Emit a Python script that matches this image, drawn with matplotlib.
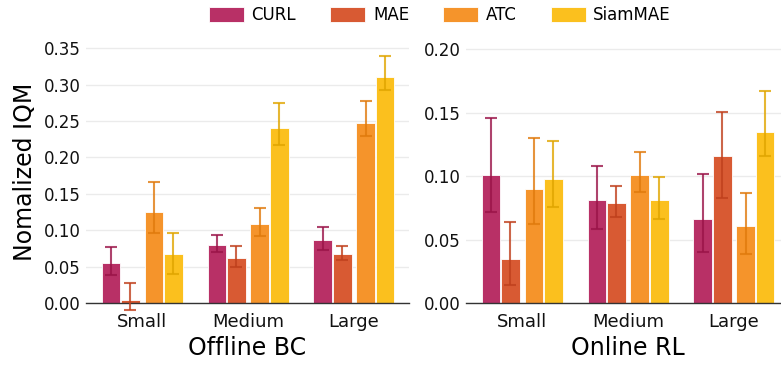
import numpy as np
import matplotlib
matplotlib.use("Agg")
import matplotlib.pyplot as plt

methods = ["CURL", "MAE", "ATC", "SiamMAE"]
sizes = ["Small", "Medium", "Large"]
colors = ["#b83066", "#d85a33", "#f5942b", "#fbc01e"]
err_colors = ["#9a1448", "#c0401d", "#e07a0c", "#e0a500"]

# Offline BC: mean, lower, upper per method (Small, Medium, Large)
bc_mean = {
    "CURL": [0.0545, 0.080, 0.0865],
    "MAE": [0.004, 0.062, 0.067],
    "ATC": [0.125, 0.109, 0.248],
    "SiamMAE": [0.067, 0.241, 0.310],
}
bc_low = {
    "CURL": [0.038, 0.070, 0.073],
    "MAE": [-0.009, 0.050, 0.0595],
    "ATC": [0.096, 0.0915, 0.2296],
    "SiamMAE": [0.040, 0.217, 0.293],
}
bc_high = {
    "CURL": [0.077, 0.094, 0.104],
    "MAE": [0.027, 0.078, 0.079],
    "ATC": [0.166, 0.131, 0.277],
    "SiamMAE": [0.096, 0.275, 0.340],
}

# Online RL
rl_mean = {
    "CURL": [0.101, 0.081, 0.066],
    "MAE": [0.035, 0.079, 0.1155],
    "ATC": [0.0895, 0.101, 0.061],
    "SiamMAE": [0.0976, 0.0813, 0.1346],
}
rl_low = {
    "CURL": [0.072, 0.0585, 0.040],
    "MAE": [0.0144, 0.068, 0.083],
    "ATC": [0.062, 0.0874, 0.0388],
    "SiamMAE": [0.076, 0.0664, 0.1157],
}
rl_high = {
    "CURL": [0.146, 0.1076, 0.102],
    "MAE": [0.064, 0.092, 0.1506],
    "ATC": [0.130, 0.119, 0.087],
    "SiamMAE": [0.128, 0.0995, 0.1669],
}

offsets = [-0.295, -0.11, 0.11, 0.295]
width = 0.175


def draw(ax, mean, low, high, title, ylim, yticks):
    x = np.arange(len(sizes))
    for i, m in enumerate(methods):
        mu = np.array(mean[m])
        lo = mu - np.array(low[m])
        hi = np.array(high[m]) - mu
        ax.bar(x + offsets[i], mu, width, color=colors[i],
               edgecolor="white", linewidth=0.6, label=m, zorder=2)
        ax.errorbar(x + offsets[i], mu, yerr=[lo, hi], fmt="none",
                    ecolor=err_colors[i], elinewidth=1.5, capsize=4,
                    capthick=1.5, alpha=0.8, zorder=3, clip_on=False)
    ax.set_xlim(-0.53, 2.52)
    ax.set_ylim(*ylim)
    ax.set_yticks(yticks)
    ax.set_yticklabels([f"{t:.2f}" for t in yticks], fontsize=12)
    ax.set_xticks(x)
    ax.set_xticklabels(sizes, fontsize=13)
    ax.set_xlabel(title, fontsize=17, labelpad=4)
    ax.grid(axis="y", color="#ebebeb", linewidth=1, zorder=0)
    ax.set_axisbelow(True)
    for s in ["top", "right", "left"]:
        ax.spines[s].set_visible(False)
    ax.spines["bottom"].set_color("#333333")
    ax.spines["bottom"].set_linewidth(1.0)
    ax.tick_params(axis="y", length=0, pad=4, colors="#111111")
    ax.tick_params(axis="x", length=0, pad=7, colors="#111111")


fig = plt.figure(figsize=(7.81, 3.65), dpi=100)
ax1 = fig.add_axes([86 / 781, 62 / 365, 323 / 781, 262 / 365])
ax2 = fig.add_axes([466 / 781, 62 / 365, 323 / 781, 262 / 365])

draw(ax1, bc_mean, bc_low, bc_high, "Offline BC", (0, 0.36),
     [0, 0.05, 0.10, 0.15, 0.20, 0.25, 0.30, 0.35])
draw(ax2, rl_mean, rl_low, rl_high, "Online RL", (0, 0.2065),
     [0, 0.05, 0.10, 0.15, 0.20])
ax1.set_ylabel("Nomalized IQM", fontsize=17, labelpad=5)

handles, labels = ax1.get_legend_handles_labels()
fig.legend(handles, labels, loc="center", bbox_to_anchor=(440 / 781, 1 - 15 / 365),
           ncol=4, frameon=False, fontsize=12, handlelength=2.1, handleheight=1.0,
           columnspacing=2.05, handletextpad=0.45)

fig.savefig("out.png", dpi=100)
